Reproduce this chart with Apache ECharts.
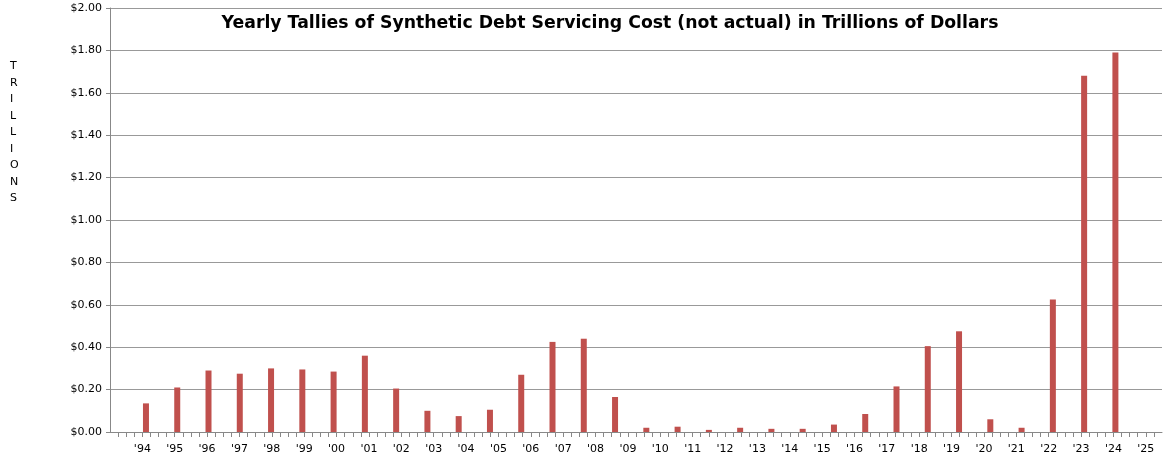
<!DOCTYPE html>
<html>
<head>
<meta charset="UTF-8">
<script src="https://cdn.jsdelivr.net/npm/echarts@6/dist/echarts.min.js"></script>
<style>body{margin:0;background:#fff}#c{width:1163px;height:464px}</style>
</head>
<body>
<div id="c"></div>
<script>
// one bar per year, '94 .. '24
const years = ['94','95','96','97','98','99','00','01','02','03','04','05','06','07','08','09','10','11','12','13','14','15','16','17','18','19','20','21','22','23','24','25'];
const costs = [0.135,0.21,0.29,0.275,0.30,0.295,0.285,0.36,0.205,0.10,0.075,0.105,0.27,0.425,0.44,0.165,0.02,0.025,0.01,0.02,0.015,0.015,0.035,0.085,0.215,0.405,0.475,0.06,0.02,0.625,1.68,1.79];

const chart = echarts.init(document.getElementById('c'));
chart.setOption({
  animation: false,
  title: { text: 'Yearly Tallies of Synthetic Debt Servicing Cost (not actual) in Trillions of Dollars', left: 605, top: 10, textAlign: 'center',
    textStyle: { fontFamily: 'DejaVu Sans', fontSize: 17.3, fontWeight: 'bold', color: '#000' } },
  graphic: [{ type: 'text', left: 10, top: 58, style: { text: 'T\nR\nI\nL\nL\nI\nO\nN\nS', font: '11px "DejaVu Sans"', lineHeight: 16.5, fill: '#000', align: 'center' } }],
  grid: { left: 110, right: 1, top: 8, bottom: 32 },
  xAxis: [
    { type: 'value', min: -1.15, max: 32.49, show: false },
    { type: 'value', position: 'bottom', min: -1, max: 31.5, interval: 0.25,
      axisLine: { lineStyle: { color: '#888' } },
      axisTick: { show: true, length: 5, lineStyle: { color: '#888' } },
      splitLine: { show: false },
      axisLabel: { showMinLabel: false, showMaxLabel: false, margin: 12, fontFamily: 'DejaVu Sans', fontSize: 11, color: '#000',
        formatter: v => (Math.abs(v - Math.round(v)) < 1e-6 && v >= 0 && v < years.length) ? "'" + years[Math.round(v)] : '' } }
  ],
  yAxis: { type: 'value', min: 0, max: 2, interval: 0.2,
    axisLine: { show: true, onZero: false, lineStyle: { color: '#888' } },
    axisTick: { show: true, length: 4, lineStyle: { color: '#888' } },
    splitLine: { lineStyle: { color: '#999' } },
    axisLabel: { fontFamily: 'DejaVu Sans', fontSize: 11, color: '#000', formatter: v => '$' + v.toFixed(2) } },
  series: [{ type: 'bar', xAxisIndex: 0, barWidth: 6, itemStyle: { color: '#c0504d' },
    data: costs.map((v, i) => [i, v]) }]
});
</script>
</body>
</html>
